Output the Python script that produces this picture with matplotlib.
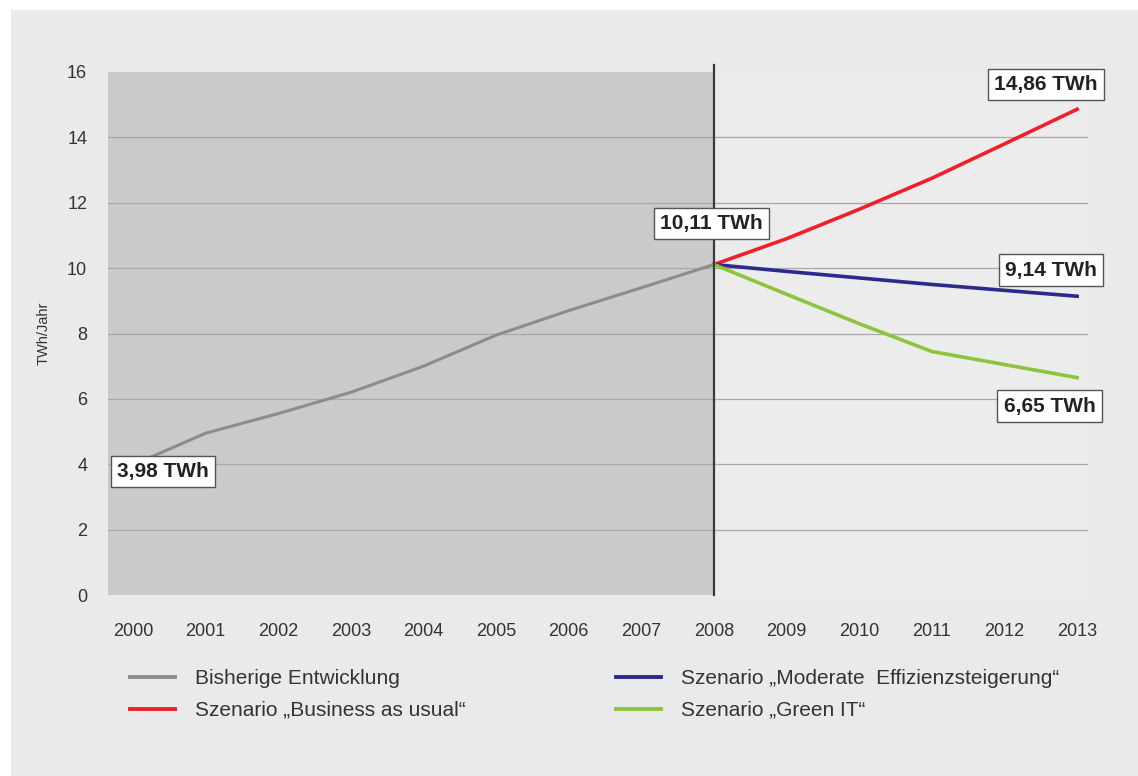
import matplotlib
matplotlib.use("Agg")
import matplotlib.pyplot as plt
from matplotlib.patches import Rectangle
from matplotlib.lines import Line2D

plt.rcParams['font.family'] = ['Liberation Sans', 'DejaVu Sans']

years_hist = [2000, 2001, 2002, 2003, 2004, 2005, 2006, 2007, 2008]
hist = [3.98, 4.95, 5.55, 6.2, 7.0, 7.95, 8.7, 9.4, 10.11]

years_scen = [2008, 2009, 2010, 2011, 2012, 2013]
bau = [10.11, 10.9, 11.8, 12.75, 13.8, 14.86]
moderate = [10.11, 9.9, 9.7, 9.5, 9.32, 9.14]
green = [10.11, 9.2, 8.3, 7.45, 7.05, 6.65]

xticks = list(range(2000, 2014))
yticks = [0, 2, 4, 6, 8, 10, 12, 14, 16]

legend_labels = ["Bisherige Entwicklung", "Szenario \u201eBusiness as usual\u201c",
                 "Szenario \u201eModerate  Effizienzsteigerung\u201c", "Szenario \u201eGreen IT\u201c"]
legend_colors = ['#8c8c8c', '#f0202a', '#2b2a8c', '#8dc43c']

W, H = 1138, 776
fig = plt.figure(figsize=(W / 100, H / 100), dpi=100)
fig.patch.set_facecolor('#e9eaeb')
# white scan border at top and left
fig.patches.append(Rectangle((0, 1 - 10 / H), 1, 10 / H, transform=fig.transFigure,
                             facecolor='white', edgecolor='none', zorder=0))
fig.patches.append(Rectangle((0, 0), 11 / W, 1, transform=fig.transFigure,
                             facecolor='white', edgecolor='none', zorder=0))

ax_l, ax_r, ax_t, ax_b = 108, 1088, 72, 595
ax = fig.add_axes([ax_l / W, 1 - ax_b / H, (ax_r - ax_l) / W, (ax_b - ax_t) / H])
ax.set_facecolor('#ececec')
ax.set_xlim(1999.656, 2013.15)
ax.set_ylim(0, 16)

# shaded historical region
ax.axvspan(1999.656, 2008, color='#c8cacc', zorder=0, lw=0)

for y in yticks[1:-1]:
    ax.axhline(y, color='#a9a9a9', lw=0.9, zorder=1)

for s in ax.spines.values():
    s.set_visible(False)

ax.plot(years_hist, hist, color='#8c8c8c', lw=2.2, zorder=3)
ax.plot(years_scen, bau, color='#f0202a', lw=2.6, zorder=4)
ax.plot(years_scen, moderate, color='#2b2a8c', lw=2.6, zorder=4)
ax.plot(years_scen, green, color='#8dc43c', lw=2.6, zorder=4)

# vertical separator line
ax.plot([2008, 2008], [0, 16.2], color='#3a3a3a', lw=1.6, zorder=5, clip_on=False)

ax.set_xticks(xticks)
ax.set_xticklabels([str(x) for x in xticks], fontsize=13, color='#333333')
ax.set_yticks(yticks)
ax.set_yticklabels([str(y) for y in yticks], fontsize=13, color='#333333')
ax.tick_params(axis='x', length=0, pad=20)
ax.tick_params(axis='y', length=0, pad=15)
ax.set_ylabel('TWh/Jahr', fontsize=10.5, color='#333333', labelpad=12)

box = dict(boxstyle='square,pad=0.3', facecolor='white', edgecolor='#555555', lw=1.0)
ann = [("14,86 TWh", 2012.57, 15.62), ("10,11 TWh", 2007.97, 11.36),
       ("9,14 TWh", 2012.64, 9.94), ("6,65 TWh", 2012.62, 5.78), ("3,98 TWh", 2000.41, 3.78)]
for txt, x, y in ann:
    ax.text(x, y, txt, fontsize=15, fontweight='bold', ha='center', va='center',
            color='#222222', bbox=box, zorder=6)

# legend
handles = [Line2D([], [], color=c, lw=2.8) for c in legend_colors]
leg = fig.legend(handles, legend_labels, loc='upper left', bbox_to_anchor=(130 / W, 1 - 669 / H),
                 ncol=2, frameon=False, fontsize=15, handlelength=2.16, handletextpad=0.96,
                 columnspacing=7.2, labelspacing=0.62, borderpad=0, borderaxespad=0)
for t in leg.get_texts():
    t.set_color('#333333')

fig.savefig('out.png', dpi=100, facecolor=fig.get_facecolor())
